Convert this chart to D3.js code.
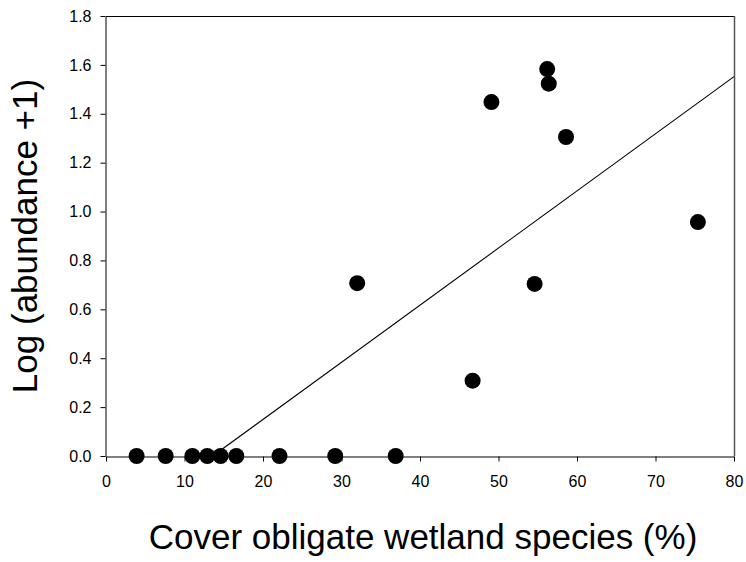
<!DOCTYPE html>
<html>
<head>
<meta charset="utf-8">
<script src="https://cdn.jsdelivr.net/npm/d3@7"></script>
<style>
  html, body { margin: 0; padding: 0; background: #fff; }
  svg { display: block; }
  text { font-family: "Liberation Sans", Arial, sans-serif; fill: #000; }
</style>
</head>
<body>
<svg id="chart" width="746" height="562"></svg>
<script>
// Data
const coverX = [3.9, 7.6, 11.0, 12.9, 14.6, 16.6, 22.1, 29.2, 36.9, 32.0, 46.7, 49.1, 54.6, 56.2, 56.4, 58.6, 75.4];
const logAbund = [0, 0, 0, 0, 0, 0, 0, 0, 0, 0.707, 0.308, 1.448, 0.704, 1.583, 1.523, 1.305, 0.957];
const fitX = [13.6, 80];
const fitY = [0, 1.552];
const xTicks = [0, 10, 20, 30, 40, 50, 60, 70, 80];
const yTicks = [0, 0.2, 0.4, 0.6, 0.8, 1.0, 1.2, 1.4, 1.6, 1.8];
const xTitle = "Cover obligate wetland species (%)";
const yTitle = "Log (abundance +1)";

const svg = d3.select("#chart");
const L = 106, R = 734, T = 16, B = 456;

const x = d3.scaleLinear().domain([0, 80]).range([L, R]);
const y = d3.scaleLinear().domain([0, 1.8]).range([B, T]);

// frame top and right
svg.append("line").attr("x1", L).attr("x2", R).attr("y1", T + 0.5).attr("y2", T + 0.5)
  .attr("stroke", "#000").attr("stroke-width", 1);
svg.append("line").attr("x1", R + 0.5).attr("x2", R + 0.5).attr("y1", T).attr("y2", B)
  .attr("stroke", "#555").attr("stroke-width", 1.5);

// regression line
const fit = fitX.map((v, i) => [v, fitY[i]]);
svg.append("path")
  .attr("d", d3.line().x(d => x(d[0])).y(d => y(d[1]))(fit))
  .attr("fill", "none").attr("stroke", "#000").attr("stroke-width", 1.1);

// axes
const xAxis = svg.append("g").attr("transform", `translate(0,${B + 0.5})`)
  .call(d3.axisBottom(x).tickValues(xTicks).tickSize(5).tickPadding(14).tickSizeOuter(0));
const yAxis = svg.append("g").attr("transform", `translate(${L - 0.5},0)`)
  .call(d3.axisLeft(y).tickValues(yTicks).tickFormat(d3.format(".1f")).tickSize(5).tickPadding(9).tickSizeOuter(0));
[xAxis, yAxis].forEach(g => {
  g.selectAll("text").style("font-size", "16px").style("font-family", '"Liberation Sans", Arial, sans-serif').attr("fill", "#000");
  g.selectAll("line").attr("stroke", "#000");
  g.select(".domain").attr("stroke", "#000");
});

// points
svg.append("g").selectAll("circle")
  .data(coverX.map((v, i) => [v, logAbund[i]]))
  .join("circle")
  .attr("cx", d => x(d[0]))
  .attr("cy", d => y(d[1]))
  .attr("r", 8)
  .attr("fill", "#000");

// titles
svg.append("text").attr("x", 423).attr("y", 549)
  .attr("text-anchor", "middle").style("font-size", "35px").text(xTitle);
svg.append("text").attr("transform", "translate(37,236) rotate(-90)")
  .attr("text-anchor", "middle").style("font-size", "35px").text(yTitle);
</script>
</body>
</html>
